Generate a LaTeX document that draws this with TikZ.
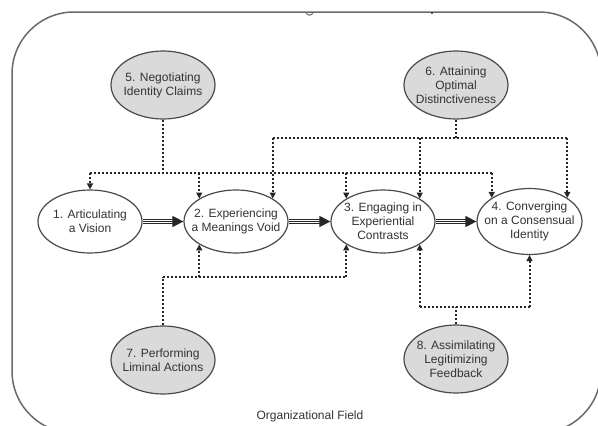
\documentclass[tikz,border=0pt]{standalone}
\usepackage{fontspec}
\setmainfont{Liberation Sans}
\usetikzlibrary{shapes.geometric,arrows.meta}
\definecolor{edgec}{HTML}{4A4A4A}
\definecolor{framec}{HTML}{6A6A6A}
\definecolor{fillg}{HTML}{DADADA}
\definecolor{txtc}{HTML}{333333}
\definecolor{dotc}{HTML}{262626}
\begin{document}
\begin{tikzpicture}[x=1pt,y=-1pt,
  mainnode/.style={ellipse, draw=edgec, line width=1.2pt, fill=white,
    minimum width=104pt, minimum height=63pt, inner sep=0pt},
  sidenode/.style={mainnode, fill=fillg, minimum height=68pt},
  lbl/.style={align=center, text=txtc, inner sep=0pt,
    font=\fontsize{12}{14}\selectfont},
  dotl/.style={draw=dotc, line width=2pt, dash pattern=on 2pt off 2pt},
  dota/.style={dotl, -{Triangle[length=6pt,width=6pt]}},
  tripout/.style={draw=dotc, line width=5.6pt, shorten >=9pt},
  tripin/.style={draw=white, line width=3.4pt, shorten >=9pt},
  tripc/.style={draw=dotc, line width=1.2pt, -{Triangle[length=11pt,width=11pt]}}
]
\useasboundingbox (0,0) rectangle (598,426);
\clip (0,0) rectangle (598,426);
\fill[white] (0,0) rectangle (598,426);
% organizational field frame
\draw[framec, line width=1.5pt, rounded corners=62pt] (12,12) rectangle (601,433);
\draw[framec, line width=1pt] (306,12.5) .. controls (307,16) and (312,16) .. (313,12.5);
\fill[dotc] (432,13) circle (1.1pt);

% main process nodes
\node[mainnode, label={[lbl]center:{1. Articulating\\a Vision}}] (n1) at (90,221.5) {};
\node[mainnode, label={[lbl]center:{2. Experiencing\\a Meanings Void}}] (n2) at (236,221.5) {};
\node[mainnode, label={[lbl]center:{3. Engaging in\\Experiential\\Contrasts}}] (n3) at (383,221.5) {};
\node[mainnode, minimum width=105pt, minimum height=66pt,
  label={[lbl]center:{4. Converging\\on a Consensual\\Identity}}] (n4) at (529.5,221.5) {};

% side nodes
\node[sidenode, label={[lbl]center:{5. Negotiating\\Identity Claims}}] (n5) at (163,85) {};
\node[sidenode, label={[lbl]center:{6. Attaining\\Optimal\\Distinctiveness}}] (n6) at (456,85) {};
\node[sidenode, label={[lbl]center:{7. Performing\\Liminal Actions}}] (n7) at (163,360) {};
\node[sidenode, label={[lbl]center:{8. Assimilating\\Legitimizing\\Feedback}}] (n8) at (456,359) {};

\node[lbl] (cap) at (310,416) {Organizational Field};

% main flow arrows
\foreach \a/\b in {n1/n2, n2/n3, n3/n4} {
  \draw[tripout] (\a) -- (\b);
  \draw[tripin] (\a) -- (\b);
  \draw[tripc] (\a) -- (\b);
}

% bus levels
\coordinate (busA) at (0,173);
\coordinate (busB) at (0,138);
\coordinate (busC) at (0,277);
\coordinate (busD) at (0,307);

% 5 -> 1,2,3,4
\draw[dotl] (n5.south) -- (n5.south |- busA);
\draw[dotl] (n1.north |- busA) -- (n4.148 |- busA);
\draw[dota] (n1.north |- busA) -- (n1.north);
\draw[dota] (n2.148 |- busA) -- (n2.148);
\draw[dota] (n3.148 |- busA) -- (n3.148);
\draw[dota] (n4.148 |- busA) -- (n4.148);

% 6 -> 2,3,4
\draw[dotl] (n6.south) -- (n6.south |- busB);
\draw[dotl] (n2.32 |- busB) -- (n4.32 |- busB);
\draw[dota] (n2.32 |- busB) -- (n2.32);
\draw[dota] (n3.32 |- busB) -- (n3.32);
\draw[dota] (n4.32 |- busB) -- (n4.32);

% 7 -> 2,3
\draw[dotl] (n7.north) -- (n7.north |- busC);
\draw[dotl] (n7.north |- busC) -- (n3.212 |- busC);
\draw[dota] (n2.212 |- busC) -- (n2.212);
\draw[dota] (n3.212 |- busC) -- (n3.212);

% 8 -> 3,4
\draw[dotl] (n8.north) -- (n8.north |- busD);
\draw[dotl] (n3.328 |- busD) -- (n4.south |- busD);
\draw[dota] (n3.328 |- busD) -- (n3.328);
\draw[dota] (n4.south |- busD) -- (n4.south);
\end{tikzpicture}
\end{document}
